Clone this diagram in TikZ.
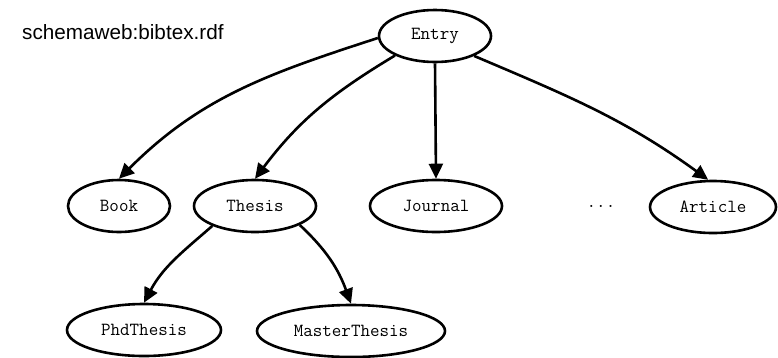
\documentclass[tikz,border=0pt]{standalone}
\usepackage{fontspec}
\setmainfont{Liberation Sans}
\usetikzlibrary{shapes.geometric,arrows.meta}
\begin{document}
\begin{tikzpicture}[x=1pt,y=-1pt,
  monof/.style={font=\ttfamily\fontsize{18.5}{20}\selectfont},
  cls/.style={ellipse,draw,line width=2.6pt,inner sep=0pt,minimum height=52pt,monof},
  arr/.style={line width=2.6pt,-{Triangle[length=15pt,width=14pt]}},
  title/.style={font=\fontsize{20.7}{24}\selectfont,inner sep=0pt,anchor=base west}]
\useasboundingbox (0,0) rectangle (778,357);
\node[title] (t) at (22,39) {schemaweb:bibtex.rdf};
\node[cls,minimum width=112pt] (entry) at (435,36) {Entry};
\node[cls,minimum width=102pt] (book) at (119,206) {Book};
\node[cls,minimum width=122pt] (thesis) at (255,206) {Thesis};
\node[cls,minimum width=132pt] (journal) at (436,206) {Journal};
\node[inner sep=0pt,monof] (dots) at (601,206) {...};
\node[cls,minimum width=126pt] (article) at (713,207) {Article};
\node[cls,minimum width=154pt] (phd) at (144,330) {PhdThesis};
\node[cls,minimum width=188pt] (master) at (351,331) {MasterThesis};
\draw[arr] (entry.182) to[out=198,in=45] (book.north);
\draw[arr] (entry.206) to[out=211,in=53] (thesis.north);
\draw[arr] (entry.south) -- (journal.north);
\draw[arr] (entry.333) to[out=-23,in=144] (article.100);
\draw[arr] (thesis.205) to[out=221,in=62] (phd.north);
\draw[arr] (thesis.337) to[out=-43,in=110] (master.north);
\end{tikzpicture}
\end{document}
